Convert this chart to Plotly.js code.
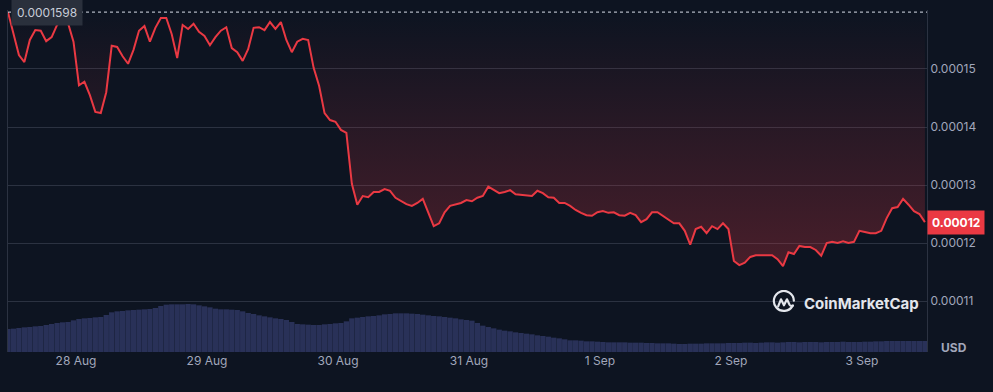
<!DOCTYPE html>
<html>
<head>
<meta charset="utf-8">
<script src="https://cdn.plot.ly/plotly-3.0.1.min.js"></script>
<style>
  html, body { margin: 0; padding: 0; background: #0d1421; }
  #chart { width: 993px; height: 392px; }
</style>
</head>
<body>
<div id="chart"></div>
<script>
// Hourly samples, first sample at 27 Aug 11:32
const startTime = "2023-08-27 11:32";
const stepHours = 1;

const price = [
  0.0001598,0.0001559,0.0001524,0.0001512,0.0001550,0.0001567,0.0001566,0.0001548,0.0001555,0.0001576,
  0.0001584,0.0001579,0.0001547,0.0001472,0.0001478,0.0001455,0.0001426,0.0001424,0.0001460,0.0001540,
  0.0001538,0.0001522,0.0001509,0.0001533,0.0001566,0.0001574,0.0001547,0.0001571,0.0001588,0.0001588,
  0.0001560,0.0001519,0.0001576,0.0001569,0.0001578,0.0001564,0.0001557,0.0001541,0.0001555,0.0001566,
  0.0001572,0.0001536,0.0001529,0.0001514,0.0001534,0.0001571,0.0001572,0.0001567,0.0001581,0.0001569,
  0.0001581,0.0001550,0.0001529,0.0001547,0.0001552,0.0001550,0.0001502,0.0001471,0.0001424,0.0001412,
  0.0001409,0.0001395,0.0001390,0.0001302,0.0001266,0.0001281,0.0001279,0.0001288,0.0001288,0.0001293,
  0.0001290,0.0001278,0.0001272,0.0001267,0.0001264,0.0001269,0.0001276,0.0001253,0.0001229,0.0001234,
  0.0001253,0.0001264,0.0001267,0.0001269,0.0001274,0.0001272,0.0001278,0.0001281,0.0001297,0.0001291,
  0.0001286,0.0001288,0.0001291,0.0001284,0.0001283,0.0001283,0.0001281,0.0001290,0.0001286,0.0001279,
  0.0001278,0.0001269,0.0001269,0.0001264,0.0001257,0.0001252,0.0001248,0.0001247,0.0001253,0.0001255,
  0.0001252,0.0001253,0.0001248,0.0001247,0.0001252,0.0001248,0.0001236,0.0001241,0.0001253,0.0001253,
  0.0001247,0.0001240,0.0001234,0.0001234,0.0001221,0.0001197,0.0001224,0.0001228,0.0001217,0.0001229,
  0.0001224,0.0001234,0.0001224,0.0001169,0.0001162,0.0001166,0.0001176,0.0001179,0.0001179,0.0001178,
  0.0001179,0.0001172,0.0001160,0.0001184,0.0001181,0.0001195,0.0001193,0.0001193,0.0001188,0.0001178,
  0.0001200,0.0001202,0.0001200,0.0001203,0.0001200,0.0001202,0.0001221,0.0001219,0.0001217,0.0001217,
  0.0001221,0.0001243,0.0001260,0.0001262,0.0001276,0.0001266,0.0001255,0.0001250,0.0001236
];

// Volume (millions USD), same hourly timestamps
const volume = [
  6.9,7.0,7.2,7.4,7.5,7.7,7.8,8.1,8.4,8.7,
  8.9,9.0,9.5,9.9,10.1,10.2,10.4,10.5,11.1,11.9,
  12.2,12.3,12.5,12.6,12.7,12.8,12.9,13.2,13.8,14.2,
  14.3,14.3,14.3,14.4,14.3,14.0,13.7,13.4,13.0,12.8,
  12.8,12.7,12.6,12.2,11.7,11.4,11.0,10.7,10.4,10.1,
  9.9,9.6,9.0,8.4,8.3,8.2,8.1,8.1,8.3,8.4,
  8.6,8.7,9.2,10.1,10.3,10.5,10.7,10.8,11.0,11.3,
  11.4,11.6,11.6,11.6,11.5,11.4,11.2,11.0,10.8,10.7,
  10.5,10.3,10.1,9.8,9.6,9.4,8.7,7.9,7.5,7.1,
  6.7,6.4,6.2,5.9,5.7,5.5,5.3,5.0,4.8,4.6,
  4.3,4.1,3.8,3.5,3.5,3.4,3.2,3.2,3.1,3.0,
  2.9,2.9,2.9,2.9,2.8,2.8,2.8,2.7,2.7,2.6,
  2.6,2.6,2.5,2.4,2.4,2.5,2.5,2.5,2.6,2.6,
  2.6,2.6,2.7,2.7,2.7,2.8,2.8,2.7,2.8,2.9,
  2.9,2.8,2.9,3.0,3.0,2.9,3.0,3.0,3.0,2.9,
  3.0,3.0,3.0,3.1,3.0,3.0,3.0,3.1,3.1,3.2,
  3.2,3.3,3.3,3.3,3.3,3.3,3.3,3.3,3.3
];

const yTicks = [0.00011, 0.00012, 0.00013, 0.00014, 0.00015];
const openLabel = "0.0001598";
const currentLabel = "0.00012";
const currencyLabel = "USD";
const brand = "CoinMarketCap";

function fmt(ms) {
  return new Date(ms).toISOString().slice(0, 16).replace('T', ' ');
}
const t0 = Date.parse(startTime.replace(' ', 'T') + ':00Z');
const times = price.map((_, i) => fmt(t0 + i * stepHours * 3600e3));
const openPrice = price[0];
const lastPrice = price[price.length - 1];

const RED = '#ea3943';
const GREY = '#a1a7bb';
const GRID = '#2b3241';

const baseline = {
  x: times, y: times.map(() => openPrice),
  type: 'scatter', mode: 'lines',
  line: { width: 0, color: 'rgba(0,0,0,0)' },
  hoverinfo: 'skip', showlegend: false
};
const priceTrace = {
  x: times, y: price, type: 'scatter', mode: 'lines',
  line: { color: RED, width: 2 },
  fill: 'tonexty',
  fillgradient: {
    type: 'vertical',
    start: 0.000116, stop: openPrice,
    colorscale: [[0, 'rgba(234,57,67,0.27)'], [1, 'rgba(234,57,67,0.0)']]
  },
  showlegend: false
};
const volTrace = {
  x: times, y: volume, type: 'bar', yaxis: 'y2',
  marker: { color: '#293158', line: { width: 0 } },
  showlegend: false
};

const logoSvg = "<svg xmlns='http://www.w3.org/2000/svg' viewBox='0 0 24 24'>" +
  "<path d='M20.6 15.8 A10 10 0 1 1 21.9 10.5' fill='none' stroke='#e3e6ec' stroke-width='2.2' stroke-linecap='round'/>" +
  "<path d='M6.2 16.2 L9 9.2 L12 15.2 L15 9.2 L17.6 14.6 Q18.8 16.6 21 15.4' fill='none' stroke='#e3e6ec' stroke-width='2.2' stroke-linecap='round' stroke-linejoin='round'/>" +
  "</svg>";

const layout = {
  width: 993, height: 392,
  margin: { l: 8, r: 66, t: 10, b: 40 },
  paper_bgcolor: '#0d1421', plot_bgcolor: '#0d1421',
  font: { family: 'Inter, "Noto Sans", sans-serif', color: GREY, size: 12 },
  bargap: 0.03,
  xaxis: {
    type: 'date',
    range: ['2023-08-27 11:32', '2023-09-03 11:55'],
    tickformat: '%-d %b', dtick: 86400000, tick0: '2023-08-28',
    showgrid: false, zeroline: false, showline: false,
    ticks: '', tickfont: { color: GREY, size: 12 }
  },
  yaxis: {
    side: 'right',
    range: [0.00010121, 0.00016017],
    tickvals: yTicks, tickformat: '.5f',
    showgrid: true, gridcolor: GRID, gridwidth: 1,
    zeroline: false, showline: true, mirror: true, linecolor: '#2b3241',
    ticks: '', tickfont: { color: GREY, size: 12 }
  },
  yaxis2: {
    overlaying: 'y', range: [0, 102.6], visible: false, showgrid: false
  },
  shapes: [{
    type: 'line', xref: 'paper', x0: 0, x1: 1, yref: 'y', y0: openPrice, y1: openPrice,
    line: { color: 'rgba(230,235,245,0.75)', width: 1.3, dash: 'dot' }
  }],
  annotations: [
    { xref: 'paper', x: 0, xanchor: 'left', xshift: 3, yref: 'y', y: openPrice, yanchor: 'middle',
      text: openLabel, showarrow: false, bgcolor: '#2a303c', borderpad: 5,
      font: { color: '#c8cdd8', size: 12 } },
    { xref: 'paper', x: 1, xanchor: 'left', yref: 'y', y: lastPrice, yanchor: 'middle',
      text: '<b>' + currentLabel + '</b>', showarrow: false, bgcolor: RED, borderpad: 4,
      font: { color: '#ffffff', size: 12 } },
    { xref: 'paper', x: 1, xanchor: 'left', xshift: 12, yref: 'paper', y: 0.012, yanchor: 'middle',
      text: '<b>' + currencyLabel + '</b>', showarrow: false, font: { color: GREY, size: 12 } },
    { xref: 'paper', x: 0.864, xanchor: 'left', yref: 'paper', y: 0.143, yanchor: 'middle',
      text: '<b>' + brand + '</b>', showarrow: false, font: { color: '#e3e6ec', size: 15 } }
  ],
  images: [{
    source: 'data:image/svg+xml;charset=utf-8,' + encodeURIComponent(logoSvg),
    xref: 'paper', yref: 'paper', x: 0.8313, y: 0.181, sizex: 0.0261, sizey: 0.0702,
    xanchor: 'left', yanchor: 'top', sizing: 'contain', layer: 'above'
  }]
};

Plotly.newPlot('chart', [volTrace, baseline, priceTrace], layout, { staticPlot: true, displayModeBar: false });
</script>
</body>
</html>
